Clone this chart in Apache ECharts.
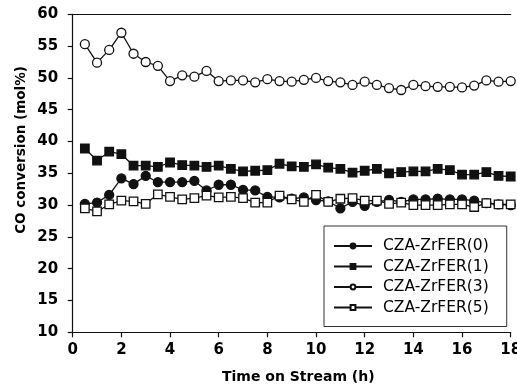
<!DOCTYPE html>
<html>
<head>
<meta charset="utf-8">
<script src="https://cdn.jsdelivr.net/npm/echarts@6/dist/echarts.min.js"></script>
<style>
  html, body { margin: 0; padding: 0; background: #fff; }
  #chart { width: 517px; height: 392px; }
</style>
</head>
<body>
<div id="chart"></div>
<script>
// Time on stream (h)
const hours = [0.5, 1, 1.5, 2, 2.5, 3, 3.5, 4, 4.5, 5, 5.5, 6, 6.5, 7, 7.5, 8, 8.5, 9,
               9.5, 10, 10.5, 11, 11.5, 12, 12.5, 13, 13.5, 14, 14.5, 15, 15.5, 16, 16.5, 17, 17.5, 18];

// CO conversion (mol%) per catalyst
const zrFer0 = [30.2, 30.4, 31.6, 34.2, 33.3, 34.6, 33.6, 33.6, 33.6, 33.8, 32.3, 33.2,
                33.2, 32.4, 32.3, 31.3, 31.2, 31.0, 31.2, 30.8, 30.6, 29.5, 30.5, 29.9,
                30.5, 30.8, 30.5, 30.9, 30.9, 31.0, 30.9, 30.9, 30.7, 30.3, 30.1, 30.0];
const zrFer1 = [38.9, 37.0, 38.4, 38.0, 36.2, 36.2, 36.0, 36.7, 36.3, 36.2, 36.0, 36.2,
                35.7, 35.3, 35.4, 35.5, 36.5, 36.1, 36.0, 36.4, 35.9, 35.7, 35.1, 35.4,
                35.7, 35.0, 35.2, 35.3, 35.3, 35.7, 35.5, 34.8, 34.8, 35.2, 34.6, 34.5];
const zrFer3 = [55.3, 52.4, 54.4, 57.1, 53.8, 52.5, 51.9, 49.5, 50.4, 50.2, 51.1, 49.5,
                49.6, 49.6, 49.3, 49.8, 49.5, 49.4, 49.7, 50.0, 49.5, 49.3, 48.9, 49.4,
                48.9, 48.4, 48.1, 48.9, 48.7, 48.6, 48.6, 48.5, 48.8, 49.6, 49.4, 49.5];
const zrFer5 = [29.5, 29.0, 30.1, 30.7, 30.6, 30.2, 31.7, 31.3, 30.9, 31.1, 31.5, 31.2,
                31.3, 31.1, 30.4, 30.4, 31.5, 30.9, 30.5, 31.6, 30.5, 31.0, 31.1, 30.7,
                30.7, 30.2, 30.4, 30.0, 30.0, 30.0, 30.1, 30.1, 29.7, 30.3, 30.1, 30.1];

const seriesNames = ['CZA-ZrFER(0)', 'CZA-ZrFER(1)', 'CZA-ZrFER(3)', 'CZA-ZrFER(5)'];
const xTitle = 'Time on Stream (h)';
const yTitle = 'CO conversion (mol%)';

const pairs = vals => hours.map((h, i) => [h, vals[i]]);

const INK = '#111';
const tickFont = { color: '#000', fontFamily: 'DejaVu Sans', fontWeight: 'bold', fontSize: 15 };

function makeSeries(name, vals, symbol, filled, size) {
  return {
    name: name,
    type: 'line',
    data: pairs(vals),
    symbol: symbol,
    symbolSize: size,
    showAllSymbol: true,
    lineStyle: { color: INK, width: 1.3 },
    itemStyle: { color: filled ? INK : '#fff', borderColor: INK, borderWidth: 1.3 },
    emphasis: { disabled: true },
    animation: false
  };
}

const chart = echarts.init(document.getElementById('chart'), null, { renderer: 'canvas' });
chart.setOption({
  backgroundColor: '#fff',
  animation: false,
  grid: { left: 72.7, right: 6.3, top: 14.3, bottom: 59.7, outerBoundsMode: 'none', containLabel: false },
  xAxis: [{
    type: 'value', min: 0, max: 18, interval: 2,
    axisLine: { show: true, onZero: false, lineStyle: { color: INK, width: 1.2 } },
    axisTick: { show: true, inside: false, length: 5, lineStyle: { color: INK, width: 1.2 } },
    axisLabel: Object.assign({ margin: 10, hideOverlap: false }, tickFont),
    splitLine: { show: false }
  }, {
    type: 'value', min: 0, max: 18, position: 'top',
    axisLine: { show: true, onZero: false, lineStyle: { color: INK, width: 1.2 } },
    axisTick: { show: false }, axisLabel: { show: false }, splitLine: { show: false }
  }],
  yAxis: {
    type: 'value', min: 10, max: 60, interval: 5,
    axisLine: { show: true, onZero: false, lineStyle: { color: INK, width: 1.2 } },
    axisTick: { show: true, inside: false, length: 5, lineStyle: { color: INK, width: 1.2 } },
    axisLabel: Object.assign({ margin: 14.5 }, tickFont),
    splitLine: { show: false }
  },
  legend: {
    orient: 'vertical',
    left: 324, top: 226,
    padding: [12, 18, 11, 9],
    borderColor: '#333', borderWidth: 1,
    itemWidth: 38, itemHeight: 6, itemGap: 4.5,
    textStyle: { color: '#000', fontFamily: 'DejaVu Sans', fontSize: 15.5, lineHeight: 16, padding: [0, 0, 0, 6] },
    data: seriesNames
  },
  graphic: [
    { type: 'text', top: 370, left: 222,
      style: { text: xTitle, fill: '#000', font: 'bold 14px "DejaVu Sans"' } },
    { type: 'text', x: 21.7, y: 150, rotation: Math.PI / 2,
      style: { text: yTitle, fill: '#000', font: 'bold 13.5px "DejaVu Sans"', align: 'center', verticalAlign: 'middle' } }
  ],
  series: [
    makeSeries(seriesNames[0], zrFer0, 'circle', true, 9),
    makeSeries(seriesNames[1], zrFer1, 'rect', true, 8.5),
    makeSeries(seriesNames[2], zrFer3, 'circle', false, 9),
    makeSeries(seriesNames[3], zrFer5, 'rect', false, 8.5)
  ]
});
</script>
</body>
</html>
